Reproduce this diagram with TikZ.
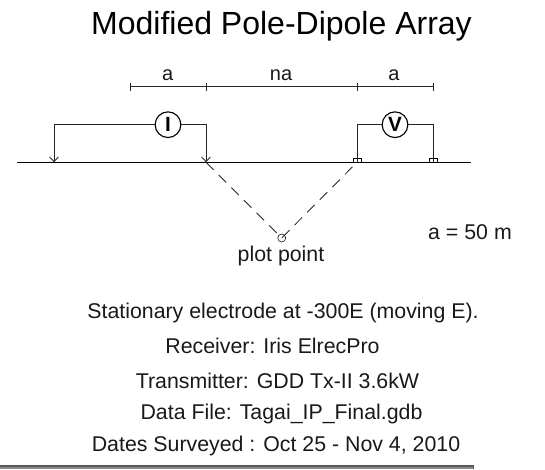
\documentclass[tikz,border=0pt]{standalone}
\usepackage{fontspec}
\setmainfont{Liberation Sans}
\usetikzlibrary{arrows.meta}
\tikzset{
  wire/.style={draw=black!85,line width=0.65pt},
  ground/.style={draw=black,line width=0.8pt},
  meter/.style={circle,draw=black,line width=0.85pt,fill=white,minimum size=19.3pt,inner sep=0pt,font=\fontsize{15.5}{17}\selectfont\bfseries},
  lbl/.style={inner sep=0pt,anchor=base,font=\fontsize{15}{17}\selectfont,text=black!90},
  info/.style={inner sep=0pt,anchor=base,font=\fontsize{16}{18}\selectfont,text=black!90},
  elec/.style={draw=black,line width=0.5pt,fill=white,minimum width=6.2pt,minimum height=3pt,inner sep=0pt},
  tick/.style={draw=black!85,line width=0.65pt},
  dashline/.style={draw=black!85,line width=0.65pt,dash pattern=on 8pt off 5.4pt},
}
\begin{document}
\begin{tikzpicture}[x=0.75pt,y=-0.75pt]
\useasboundingbox (0,0) rectangle (545,469);
\node[inner sep=0pt,anchor=base,font=\fontsize{24}{28}\selectfont] (title) at (281.5,34) {Modified Pole-Dipole Array};
% dimension line
\coordinate (d1) at (130,86.7);
\coordinate (d2) at (206,86.7);
\coordinate (d3) at (357,86.7);
\coordinate (d4) at (433,86.7);
\draw[wire] (d1) -- (d4);
\foreach \p in {d1,d2,d3,d4} \draw[tick] ([yshift=3pt]\p) -- ([yshift=-3pt]\p);
\node[lbl] (la1) at (167.7,80) {a};
\node[lbl] (la2) at (281,80) {na};
\node[lbl] (la3) at (394,80) {a};
% ground
\coordinate (g1) at (17,162.3);
\coordinate (g2) at (471,162.3);
\draw[ground] (g1) -- (g2);
% meters
\node[meter] (I) at (168,124.7) {I};
\node[meter] (V) at (395,124.7) {V};
% current electrodes
\coordinate (c1) at (54,162.3);
\coordinate (c2) at (206,162.3);
\draw[wire,-{Straight Barb[length=3.5pt,width=6.5pt]}] (I.west |- 168,124) -- (54,124) -- (c1);
\draw[wire,-{Straight Barb[length=3.5pt,width=6.5pt]}] (I.east |- 168,124) -- (206,124) -- (c2);
% potential electrodes
\node[elec,anchor=south] (p1) at (357,162.3) {};
\node[elec,anchor=south] (p2) at (433,162.3) {};
\draw[wire] (V.west |- 395,124) -- (357,124) -- (p1.south);
\draw[wire] (V.east |- 395,124) -- (433,124) -- (p2.south);
% plot point
\node[circle,draw=black!85,line width=0.5pt,minimum size=6pt,inner sep=0pt] (pp) at (281.7,238) {};
\draw[dashline] (c2) -- (pp.center);
\draw[dashline,dash phase=8.6pt] (p1.south) -- (pp.center);
\node[info] (pl) at (281,261.7) {plot point};
\node[info] (sc) at (470,239.3) {a = 50 m};
% info
\node[info] (i1) at (283,318) {Stationary electrode at -300E (moving E).};
\node[info] (i2) at (272.5,353) {Receiver: Iris ElrecPro};
\node[info] (i3) at (277.5,388) {Transmitter: GDD Tx-II 3.6kW};
\node[info] (i4) at (281.5,419) {Data File: Tagai\_IP\_Final.gdb};
\node[info] (i5) at (276,451) {Dates Surveyed : Oct 25 - Nov 4, 2010};
% bottom bar
\fill[black!45] (0,465) rectangle (474,469);
\fill[black!65] (0,465) rectangle (474,467);
\fill[black!65] (472.5,465) rectangle (474,469);
\end{tikzpicture}
\end{document}
